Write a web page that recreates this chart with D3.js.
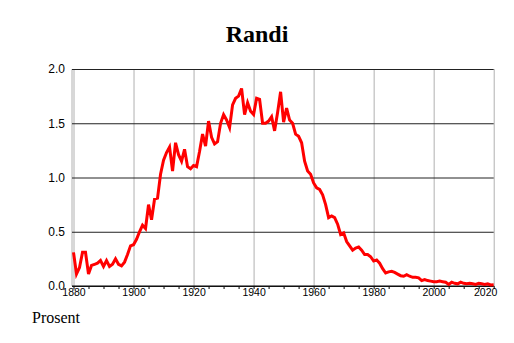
<!DOCTYPE html>
<html>
<head>
<meta charset="utf-8">
<script src="https://cdn.jsdelivr.net/npm/d3@7"></script>
<style>
  body { margin: 0; background: #fff; }
  .chart svg { display: block; }
  .axis text { font-family: "Liberation Sans", Arial, sans-serif; fill: #000; }
  .axis .domain { display: none; }
</style>
</head>
<body>
<div class="chart"></div>
<script>
// DATA ---------------------------------------------------------------

const firstYear = 1880;
const values = [
  0.31, 0.11, 0.17, 0.31, 0.31, 0.11, 0.19, 0.20, 0.21, 0.235,
  0.18, 0.235, 0.18, 0.20, 0.25, 0.20, 0.185, 0.22, 0.29, 0.37,
  0.38, 0.43, 0.50, 0.56, 0.53, 0.75, 0.61, 0.80, 0.81, 1.03,
  1.16, 1.23, 1.28, 1.06, 1.32, 1.21, 1.15, 1.26, 1.10, 1.08,
  1.11, 1.10, 1.24, 1.40, 1.29, 1.52, 1.37, 1.31, 1.33, 1.50,
  1.58, 1.53, 1.46, 1.67, 1.73, 1.75, 1.82, 1.58, 1.69, 1.61,
  1.58, 1.73, 1.72, 1.50, 1.50, 1.52, 1.56, 1.43, 1.60, 1.79,
  1.51, 1.64, 1.53, 1.50, 1.40, 1.38, 1.32, 1.15, 1.06, 1.03,
  0.95, 0.905, 0.89, 0.84, 0.75, 0.63, 0.645, 0.63, 0.57, 0.475,
  0.49, 0.41, 0.37, 0.33, 0.35, 0.36, 0.33, 0.29, 0.29, 0.27,
  0.23, 0.24, 0.21, 0.16, 0.12, 0.13, 0.135, 0.125, 0.11, 0.095,
  0.09, 0.105, 0.09, 0.08, 0.08, 0.075, 0.05, 0.06, 0.05, 0.045,
  0.04, 0.04, 0.045, 0.04, 0.035, 0.014, 0.035, 0.025, 0.02, 0.035,
  0.025, 0.02, 0.025, 0.02, 0.015, 0.025, 0.02, 0.015, 0.02, 0.01,
  0.012
];
const years = values.map((v, i) => firstYear + i);

const xTicks = [1880, 1900, 1920, 1940, 1960, 1980, 2000, 2020];
const xMinorTicks = [1880, 1885, 1890, 1895, 1900, 1905, 1910, 1915, 1920, 1925,
  1930, 1935, 1940, 1945, 1950, 1955, 1960, 1965, 1970, 1975, 1980, 1985,
  1990, 1995, 2000, 2005, 2010, 2015, 2020];
const yTicks = [0, 0.5, 1.0, 1.5, 2.0];

const title = 'Randi';
const yTitle = 'Prosent';

// CHART INIT ---------------------------------------------------------

const margin = ({top: 69, right: 20, bottom: 57, left: 72});
const width = 514 - margin.left - margin.right;
const height = 343 - margin.top - margin.bottom;

const root = d3.select('.chart')
    .append('svg')
    .attr('width', width + margin.left + margin.right)
    .attr('height', height + margin.top + margin.bottom);

const svg = root.append('g')
    .attr('transform', 'translate(' + margin.left + ',' + margin.top + ')');

const xScale = d3.scaleLinear()
    .domain([1879.5, 2020])
    .range([0, 421.7]);

const yScale = d3.scaleLinear()
    .domain([0, 2])
    .range([height, 0]);

// vertical gridlines (grey) with year labels
const xAxis = d3.axisBottom(xScale)
    .tickValues(xTicks)
    .tickSize(-height)
    .tickPadding(4)
    .tickFormat(d3.format('d'));

const gx = svg.append('g')
    .attr('class', 'axis x-axis')
    .attr('transform', 'translate(0,' + height + ')')
    .call(xAxis);

gx.selectAll('line').attr('stroke', '#b0b0b0');
gx.selectAll('text')
    .attr('font-size', '10.5px')
    .attr('dy', '0.6em');
gx.selectAll('.tick:last-of-type text').attr('text-anchor', 'end').attr('dx', '0.3em');

// minor ticks under the axis
svg.append('g')
    .attr('class', 'axis minor-axis')
    .attr('transform', 'translate(0,' + height + ')')
    .call(d3.axisBottom(xScale).tickValues(xMinorTicks).tickSize(3).tickFormat(''))
    .selectAll('line').attr('stroke', '#000');

// left border
svg.append('line')
    .attr('x1', 0).attr('x2', 0)
    .attr('y1', 0).attr('y2', height)
    .attr('stroke', '#b0b0b0');

// horizontal gridlines (dark) with value labels
const yAxis = d3.axisLeft(yScale)
    .tickValues(yTicks)
    .tickSize(-xScale(2020))
    .tickPadding(7)
    .tickFormat(d3.format('.1f'));

const gy = svg.append('g')
    .attr('class', 'axis y-axis')
    .call(yAxis);

gy.selectAll('line').attr('stroke', '#222');
gy.selectAll('text').attr('font-size', '12px');

// bottom axis line
svg.append('line')
    .attr('x1', 0).attr('x2', xScale(2020))
    .attr('y1', height).attr('y2', height)
    .attr('stroke', '#000');

// the series
const line = d3.line()
    .x((d, i) => xScale(years[i]))
    .y(d => yScale(d));

svg.append('path')
    .datum(values)
    .attr('fill', 'none')
    .attr('stroke', '#ff0000')
    .attr('stroke-width', 3)
    .attr('d', line);

// titles
root.append('text')
    .attr('x', 257)
    .attr('y', 42)
    .attr('text-anchor', 'middle')
    .attr('font-family', '"Liberation Serif", "Times New Roman", serif')
    .attr('font-weight', 'bold')
    .attr('font-size', '24px')
    .text(title);

root.append('text')
    .attr('x', 32)
    .attr('y', 323)
    .attr('font-family', '"Liberation Serif", "Times New Roman", serif')
    .attr('font-size', '16px')
    .text(yTitle);
</script>
</body>
</html>
